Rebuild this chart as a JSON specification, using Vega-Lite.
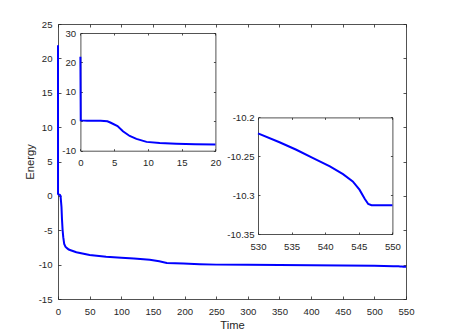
{
  "$schema": "https://vega.github.io/schema/vega-lite/v6.json",
  "width": 348,
  "height": 275,
  "autosize": "none",
  "padding": {"left": 58, "top": 24, "right": 43, "bottom": 37},
  "background": "white",
  "config": {
    "view": {"stroke": null},
    "locale": {"number": {"decimal": ".", "thousands": ",", "grouping": [3], "currency": ["$", ""], "minus": "-"}},
    "axis": {
      "grid": false,
      "labelFont": "Liberation Sans",
      "labelFontSize": 9.6,
      "labelColor": "#262626",
      "labelFlush": false,
      "labelOverlap": false,
      "titleFont": "Liberation Sans",
      "titleFontSize": 11.2,
      "titleFontWeight": "normal",
      "titleColor": "#262626",
      "domainColor": "#262626",
      "domainWidth": 0.8,
      "tickColor": "#262626",
      "tickWidth": 0.8
    }
  },
  "datasets": {
    "energy": [
      {"t": 0, "e": 21.9},
      {"t": 0.05, "e": 0.3},
      {"t": 1, "e": 0.2},
      {"t": 3, "e": 0.15},
      {"t": 4, "e": 0.0},
      {"t": 4.5, "e": -0.5},
      {"t": 5.5, "e": -1.6},
      {"t": 6.3, "e": -3.4},
      {"t": 7.3, "e": -5.0},
      {"t": 8.3, "e": -6.0},
      {"t": 9.8, "e": -7.0},
      {"t": 11.75, "e": -7.4},
      {"t": 14.2, "e": -7.6},
      {"t": 17, "e": -7.8},
      {"t": 20, "e": -7.9},
      {"t": 29, "e": -8.2},
      {"t": 50, "e": -8.6},
      {"t": 76, "e": -8.85},
      {"t": 100, "e": -9.0},
      {"t": 120, "e": -9.1},
      {"t": 145, "e": -9.3},
      {"t": 160, "e": -9.5},
      {"t": 172, "e": -9.75},
      {"t": 198, "e": -9.85},
      {"t": 224, "e": -9.95},
      {"t": 250, "e": -10.0},
      {"t": 300, "e": -10.02},
      {"t": 350, "e": -10.05},
      {"t": 400, "e": -10.08},
      {"t": 450, "e": -10.12},
      {"t": 500, "e": -10.17},
      {"t": 530, "e": -10.2206},
      {"t": 533.2, "e": -10.232},
      {"t": 535.7, "e": -10.2416},
      {"t": 538.2, "e": -10.2523},
      {"t": 540.7, "e": -10.263},
      {"t": 542.65, "e": -10.273},
      {"t": 544.1, "e": -10.2823},
      {"t": 545.1, "e": -10.293},
      {"t": 545.9, "e": -10.305},
      {"t": 546.4, "e": -10.3114},
      {"t": 546.9, "e": -10.313},
      {"t": 550, "e": -10.313}
    ]
  },
  "resolve": {"scale": {"x": "independent", "y": "independent"}},
  "layer": [
    {
      "data": {"name": "energy"},
      "mark": {"type": "line", "color": "#0000ff", "strokeWidth": 2},
      "encoding": {
        "x": {"field": "t", "type": "quantitative", "scale": {"domain": [0, 550], "nice": false, "zero": false},
          "axis": {"orient": "bottom", "title": "Time", "values": [0,50,100,150,200,250,300,350,400,450,500,550], "tickSize": -3, "labelPadding": 10, "titlePadding": 4}},
        "y": {"field": "e", "type": "quantitative", "scale": {"domain": [-15, 25], "nice": false, "zero": false},
          "axis": {"orient": "left", "title": "Energy", "values": [-15,-10,-5,0,5,10,15,20,25], "tickSize": -3, "labelPadding": 9, "titlePadding": 3}}
      }
    },
    {
      "data": {"name": "energy"},
      "mark": {"type": "point", "opacity": 0},
      "encoding": {
        "x": {"field": "t", "type": "quantitative", "scale": {"domain": [0, 550], "nice": false, "zero": false},
          "axis": {"orient": "top", "title": null, "labels": false, "values": [0,50,100,150,200,250,300,350,400,450,500,550], "tickSize": -3}},
        "y": {"field": "e", "type": "quantitative", "scale": {"domain": [-15, 25], "nice": false, "zero": false},
          "axis": {"orient": "right", "title": null, "labels": false, "values": [-15,-10,-5,0,5,10,15,20,25], "tickSize": -3}}
      }
    },
    {
      "data": {"name": "energy"},
      "transform": [{"filter": "datum.t <= 20"}],
      "mark": {"type": "line", "color": "#0000ff", "strokeWidth": 2},
      "encoding": {
        "x": {"field": "t", "type": "quantitative", "scale": {"domain": [0, 20], "nice": false, "zero": false, "range": [22.4, 157.4]},
          "axis": {"orient": "bottom", "title": null, "values": [0,5,10,15,20], "tickSize": -2, "labelPadding": 9, "offset": -148.3}},
        "y": {"field": "e", "type": "quantitative", "scale": {"domain": [-10, 30], "nice": false, "zero": false, "range": [126.7, 9]},
          "axis": {"orient": "left", "title": null, "values": [-10,0,10,20,30], "tickSize": -2, "labelPadding": 6.7, "offset": -22.4}}
      }
    },
    {
      "data": {"name": "energy"},
      "transform": [{"filter": "datum.t <= 20"}],
      "mark": {"type": "point", "opacity": 0},
      "encoding": {
        "x": {"field": "t", "type": "quantitative", "scale": {"domain": [0, 20], "nice": false, "zero": false, "range": [22.4, 157.4]},
          "axis": {"orient": "top", "title": null, "labels": false, "values": [0,5,10,15,20], "tickSize": -2, "offset": -9}},
        "y": {"field": "e", "type": "quantitative", "scale": {"domain": [-10, 30], "nice": false, "zero": false, "range": [126.7, 9]},
          "axis": {"orient": "right", "title": null, "labels": false, "values": [-10,0,10,20,30], "tickSize": -2, "offset": -190.6}}
      }
    },
    {
      "data": {"name": "energy"},
      "transform": [{"filter": "datum.t >= 530"}],
      "mark": {"type": "line", "color": "#0000ff", "strokeWidth": 2},
      "encoding": {
        "x": {"field": "t", "type": "quantitative", "scale": {"domain": [530, 550], "nice": false, "zero": false, "range": [200, 334.4]},
          "axis": {"orient": "bottom", "title": null, "values": [530,535,540,545,550], "tickSize": -2, "labelPadding": 9, "offset": -65}},
        "y": {"field": "e", "type": "quantitative", "scale": {"domain": [-10.35, -10.2], "nice": false, "zero": false, "range": [210, 93.4]},
          "axis": {"orient": "left", "title": null, "values": [-10.35,-10.3,-10.25,-10.2], "format": ".4~g", "tickSize": -2, "labelPadding": 6, "offset": -200}}
      }
    },
    {
      "data": {"name": "energy"},
      "transform": [{"filter": "datum.t >= 530"}],
      "mark": {"type": "point", "opacity": 0},
      "encoding": {
        "x": {"field": "t", "type": "quantitative", "scale": {"domain": [530, 550], "nice": false, "zero": false, "range": [200, 334.4]},
          "axis": {"orient": "top", "title": null, "labels": false, "values": [530,535,540,545,550], "tickSize": -2, "offset": -93.4}},
        "y": {"field": "e", "type": "quantitative", "scale": {"domain": [-10.35, -10.2], "nice": false, "zero": false, "range": [210, 93.4]},
          "axis": {"orient": "right", "title": null, "labels": false, "values": [-10.35,-10.3,-10.25,-10.2], "tickSize": -2, "offset": -13.6}}
      }
    }
  ]
}
